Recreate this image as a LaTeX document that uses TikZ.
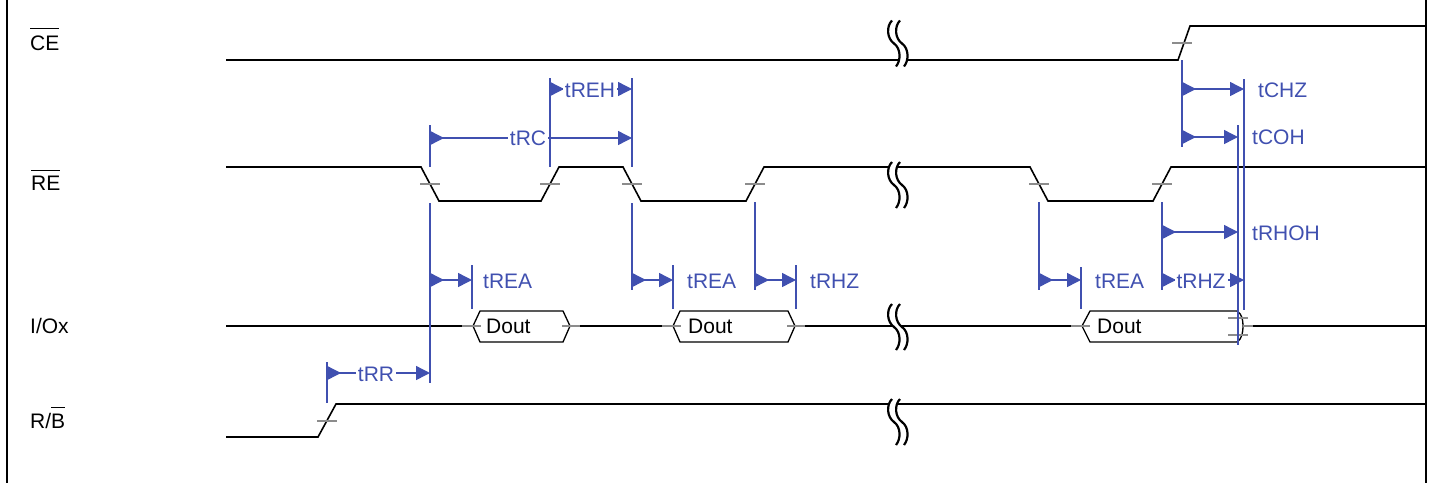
\documentclass[tikz,border=0pt]{standalone}
\usepackage{fontspec}
\setmainfont{Liberation Sans}
\usetikzlibrary{arrows.meta}
\definecolor{dimblue}{RGB}{64,80,176}
\definecolor{tickgrey}{RGB}{140,140,140}
\newcommand\ovl[2]{\vbox{\hrule height 1.3pt\kern #1\hbox{#2}}}
\begin{document}
\begin{tikzpicture}[x=1pt,y=-1pt,
  sig/.style={line width=1.6pt, black},
  boxl/.style={line width=1.3pt, black},
  frame/.style={line width=2pt, black},
  dimv/.style={line width=1.4pt, dimblue},
  dima/.style={line width=1.4pt, dimblue, {Triangle[reversed,length=14pt,width=14pt]}-{Triangle[length=14pt,width=14pt]}},
  tickm/.style={line width=1.2pt, tickgrey},
  brk/.style={line width=2.2pt, black},
  lbl/.style={inner sep=0pt, anchor=west, text height=15pt, text depth=0pt, font=\fontsize{21}{25}\selectfont},
  tlbl/.style={lbl, text=dimblue},
  tlblf/.style={tlbl, fill=white, inner xsep=2pt, anchor=center},
  brkpic/.pic={
    \fill[white] (1,-23) .. controls (-5,-17) and (-4,-5) .. (3,0) .. controls (10,5) and (10,17) .. (5,23)
       -- (13,23) .. controls (18,17) and (18,5) .. (11,0) .. controls (4,-5) and (3,-17) .. (9,-23) -- cycle;
    \draw[brk] (1,-23) .. controls (-5,-17) and (-4,-5) .. (3,0) .. controls (10,5) and (10,17) .. (5,23);
    \draw[brk] (9,-23) .. controls (3,-17) and (4,-5) .. (11,0) .. controls (18,5) and (18,17) .. (13,23);
  }]
\useasboundingbox (0,0) rectangle (1435,483);
% frame
\draw[frame] (7,0) -- (7,483);
\draw[frame] (1426,0) -- (1426,483);
% signal labels
\node[lbl] (ce) at (30,43) {\ovl{7pt}{CE}};
\node[lbl] (re) at (31,183) {\ovl{5pt}{RE}};
\node[lbl] (io) at (30,326) {I/Ox};
\node[lbl] (rb) at (30,421) {R/\ovl{6pt}{B}};
% waveforms
\draw[sig] (226,60) -- (1178,60) -- (1190,26) -- (1426,26);
\draw[sig] (226,167) -- (421,167) -- (439,201) -- (541,201) -- (559,167) -- (623,167) -- (641,201)
  -- (746,201) -- (764,167) -- (1030,167) -- (1048,201) -- (1153,201) -- (1171,167) -- (1426,167);
\draw[sig] (226,437) -- (318,437) -- (336,404) -- (1426,404);
\draw[sig] (226,326) -- (462,326);
\draw[sig] (580,326) -- (662,326);
\draw[sig] (805,326) -- (1071,326);
\draw[sig] (1253,326) -- (1426,326);
% data boxes
\draw[boxl] (473,326) -- (480,311) -- (563,311) -- (570,326) -- (563,342) -- (480,342) -- cycle;
\draw[boxl] (673,326) -- (680,311) -- (788,311) -- (795,326) -- (788,342) -- (680,342) -- cycle;
\draw[boxl] (1082,326) -- (1090,311) -- (1237,311) .. controls (1242,314) and (1243,320) .. (1243,326)
  .. controls (1243,332) and (1242,339) .. (1237,342) -- (1090,342) -- cycle;
\node[lbl] (d1) at (486,326) {Dout};
\node[lbl] (d2) at (688,326) {Dout};
\node[lbl] (d3) at (1097,326) {Dout};
% grey transition ticks
\foreach \x in {430,550,632,755,1039,1162} \draw[tickm] (\x-10,184) -- (\x+10,184);
\draw[tickm] (1172,43) -- (1192,43);
\draw[tickm] (317,421) -- (337,421);
\foreach \x in {473,673,1082} \draw[tickm] (\x-11,326) -- (\x+8,326);
\foreach \x in {570,795} \draw[tickm] (\x-8,326) -- (\x+10,326);
\draw[tickm] (1243,326) -- (1253,326);
\draw[tickm] (1228,318) -- (1248,318);
\draw[tickm] (1228,335) -- (1248,335);
% breaks
\foreach \y in {43.5,185,327,422} \pic at (891,\y) {brkpic};
% blue reference lines
\draw[dimv] (327,362) -- (327,403);
\draw[dimv] (430,125) -- (430,167);
\draw[dimv] (430,203) -- (430,383);
\draw[dimv] (550,78) -- (550,167);
\draw[dimv] (632,78) -- (632,167);
\draw[dimv] (632,203) -- (632,290);
\draw[dimv] (755,202) -- (755,290);
\draw[dimv] (472,265) -- (472,309);
\draw[dimv] (673,265) -- (673,309);
\draw[dimv] (796,265) -- (796,309);
\draw[dimv] (1039,202) -- (1039,290);
\draw[dimv] (1081,267) -- (1081,309);
\draw[dimv] (1162,202) -- (1162,290);
\draw[dimv] (1182,60) -- (1182,147);
\draw[dimv] (1238,125) -- (1238,345);
\draw[dimv] (1244,79) -- (1244,310);
% dimension arrows
\coordinate (rr1) at (327,373); \coordinate (rr2) at (430,373);
\coordinate (rc1) at (430,138); \coordinate (rc2) at (632,138);
\coordinate (reh1) at (550,89); \coordinate (reh2) at (632,89);
\coordinate (ra1) at (430,280); \coordinate (ra2) at (472,280);
\coordinate (rb1) at (632,280); \coordinate (rb2) at (673,280);
\coordinate (hz1) at (755,280); \coordinate (hz2) at (796,280);
\coordinate (rx1) at (1039,280); \coordinate (rx2) at (1081,280);
\coordinate (hy1) at (1162,280); \coordinate (hy2) at (1244,280);
\coordinate (oh1) at (1162,232); \coordinate (oh2) at (1238,232);
\coordinate (ch1) at (1182,89); \coordinate (ch2) at (1244,89);
\coordinate (co1) at (1182,137); \coordinate (co2) at (1238,137);
\foreach \a in {rr,rc,reh,ra,rb,hz,rx,hy,oh,ch,co} \draw[dima] (\a1) -- (\a2);
% timing labels
\node[tlblf] (trr) at (376,374) {tRR};
\node[tlblf] (trc) at (528,138) {tRC};
\node[tlblf] (treh) at (590,90) {tREH};
\node[tlblf] (trhz2) at (1201,281) {tRHZ};
\node[tlbl] (trea1) at (483,281) {tREA};
\node[tlbl] (trea2) at (687,281) {tREA};
\node[tlbl] (trhz1) at (810,281) {tRHZ};
\node[tlbl] (trea3) at (1095,281) {tREA};
\node[tlbl] (trhoh) at (1252,233) {tRHOH};
\node[tlbl] (tchz) at (1258,90) {tCHZ};
\node[tlbl] (tcoh) at (1252,137) {tCOH};
\end{tikzpicture}
\end{document}
